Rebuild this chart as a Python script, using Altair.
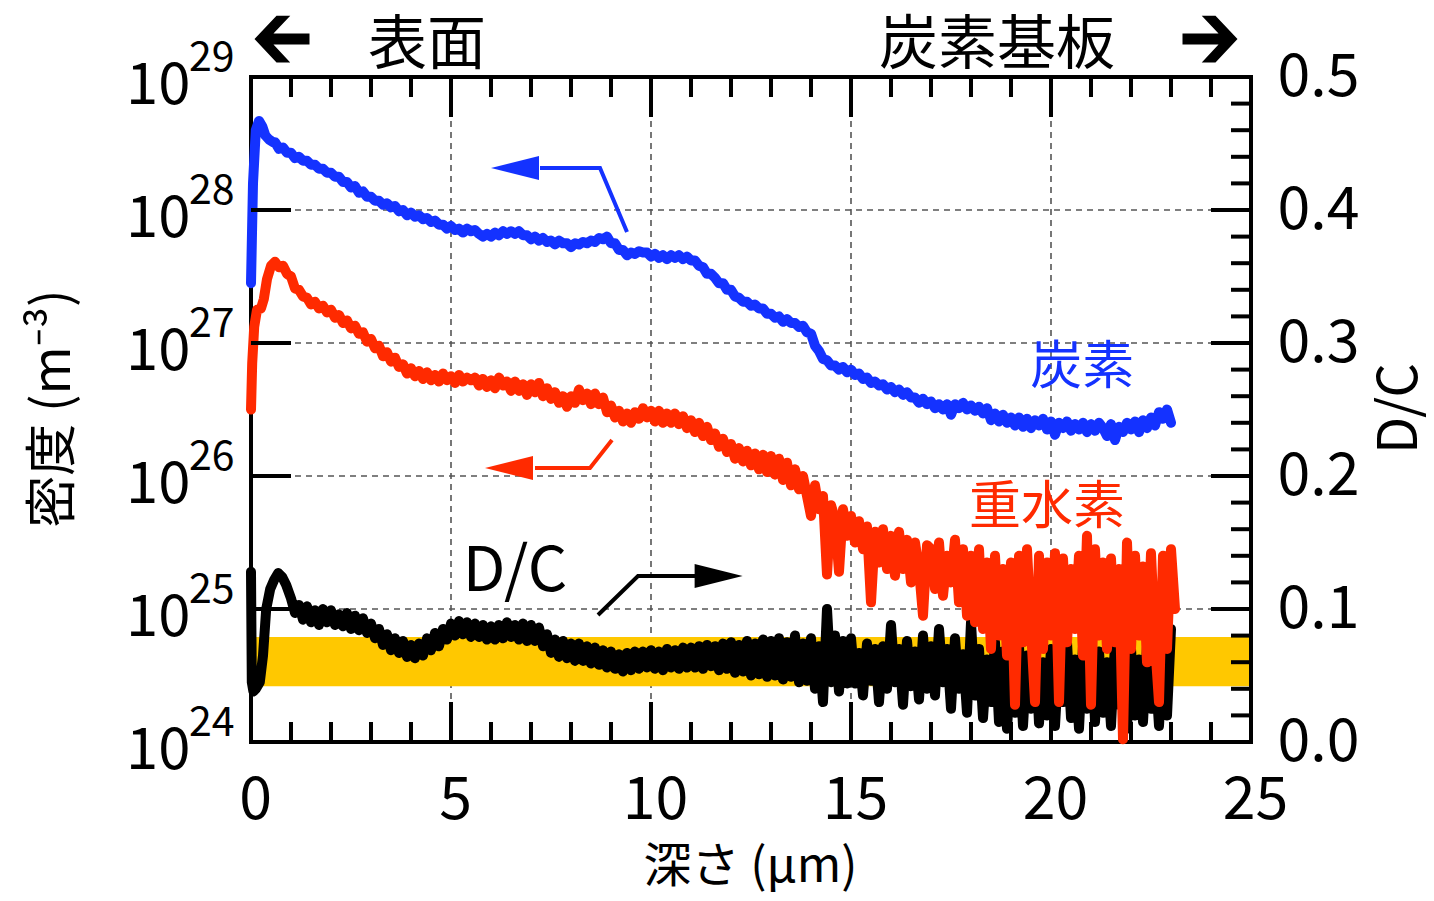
import altair as alt
import pandas as pd

W, H = 1000, 665
FONT = "Noto Sans CJK JP"
BLUE = "#1432ff"
RED = "#ff2a00"
YELLOW = "#ffc800"
STEP = 0.1   # depth sampling step of the profile data (um)

# ---- carbon (blue): log10 density (m^-3) ----
carbon_head = [(0.00, 27.45), (0.05, 28.20), (0.12, 28.60), (0.20, 28.67), (0.28, 28.63),
               (0.36, 28.56), (0.45, 28.53), (0.55, 28.51)]
carbon_start = 0.6
carbon_log = [
    28.51, 28.46, 28.47, 28.43, 28.43, 28.39, 28.40, 28.37, 28.37, 28.34,
    28.34, 28.31, 28.31, 28.28, 28.28, 28.25, 28.25, 28.21, 28.21, 28.17,
    28.18, 28.13, 28.14, 28.10, 28.10, 28.07, 28.07, 28.04, 28.05, 28.02,
    28.03, 27.99, 28.00, 27.96, 27.98, 27.95, 27.96, 27.93, 27.94, 27.91,
    27.92, 27.89, 27.89, 27.86, 27.88, 27.85, 27.86, 27.83, 27.86, 27.84,
    27.85, 27.82, 27.80, 27.82, 27.80, 27.83, 27.81, 27.84, 27.82, 27.84,
    27.82, 27.84, 27.81, 27.81, 27.78, 27.80, 27.77, 27.79, 27.76, 27.77,
    27.74, 27.77, 27.75, 27.75, 27.72, 27.75, 27.74, 27.76, 27.75, 27.77,
    27.76, 27.79, 27.78, 27.80, 27.75, 27.75, 27.70, 27.70, 27.66, 27.68,
    27.67, 27.69, 27.68, 27.68, 27.65, 27.67, 27.64, 27.66, 27.63, 27.66,
    27.64, 27.66, 27.63, 27.65, 27.62, 27.62, 27.58, 27.57, 27.52, 27.52,
    27.49, 27.45, 27.45, 27.40, 27.40, 27.35, 27.34, 27.31, 27.31, 27.28,
    27.29, 27.26, 27.26, 27.22, 27.22, 27.19, 27.20, 27.16, 27.18, 27.15,
    27.15, 27.12, 27.13, 27.08, 27.07, 26.98, 26.94, 26.88, 26.87, 26.83,
    26.83, 26.80, 26.82, 26.78, 26.80, 26.76, 26.77, 26.73, 26.74, 26.70,
    26.71, 26.68, 26.69, 26.65, 26.67, 26.63, 26.65, 26.61, 26.63, 26.59,
    26.59, 26.55, 26.58, 26.54, 26.56, 26.51, 26.54, 26.50, 26.54, 26.46,
    26.54, 26.51, 26.55, 26.50, 26.53, 26.49, 26.52, 26.47, 26.51, 26.42,
    26.47, 26.41, 26.46, 26.40, 26.44, 26.38, 26.44, 26.37, 26.43, 26.36,
    26.42, 26.38, 26.43, 26.35, 26.41, 26.31, 26.40, 26.36, 26.41, 26.34,
    26.39, 26.35, 26.40, 26.33, 26.39, 26.34, 26.40, 26.36, 26.30, 26.39,
    26.27, 26.37, 26.33, 26.40, 26.35, 26.41, 26.33, 26.42, 26.36, 26.44,
    26.38, 26.48, 26.43, 26.50, 26.40,
]

# ---- deuterium (red): log10 density (m^-3) ----
deut_head = [(0.00, 26.50), (0.03, 26.85), (0.08, 27.12), (0.15, 27.25), (0.25, 27.26),
             (0.32, 27.33), (0.40, 27.48), (0.50, 27.58)]
deut_start = 0.6
deut_log = [
    27.61, 27.57, 27.58, 27.52, 27.50, 27.41, 27.40, 27.35, 27.34, 27.29,
    27.31, 27.26, 27.28, 27.23, 27.25, 27.19, 27.21, 27.15, 27.17, 27.11,
    27.13, 27.07, 27.08, 27.01, 27.03, 26.96, 26.98, 26.90, 26.93, 26.86,
    26.89, 26.82, 26.84, 26.77, 26.81, 26.75, 26.79, 26.73, 26.78, 26.72,
    26.76, 26.71, 26.77, 26.72, 26.75, 26.70, 26.76, 26.71, 26.74, 26.72,
    26.74, 26.68, 26.73, 26.67, 26.72, 26.66, 26.74, 26.68, 26.71, 26.64,
    26.71, 26.64, 26.69, 26.61, 26.69, 26.63, 26.70, 26.60, 26.66, 26.58,
    26.63, 26.55, 26.60, 26.52, 26.60, 26.55, 26.65, 26.57, 26.62, 26.54,
    26.62, 26.54, 26.59, 26.48, 26.53, 26.44, 26.49, 26.41, 26.47, 26.40,
    26.48, 26.43, 26.51, 26.44, 26.49, 26.41, 26.49, 26.40, 26.47, 26.40,
    26.47, 26.39, 26.45, 26.36, 26.42, 26.33, 26.40, 26.30, 26.37, 26.27,
    26.32, 26.22, 26.28, 26.18, 26.24, 26.13, 26.21, 26.11, 26.19, 26.08,
    26.17, 26.05, 26.16, 26.03, 26.15, 26.01, 26.13, 25.97, 26.10, 25.93,
    26.05, 25.90, 26.00, 25.85, 25.70, 25.93, 25.75, 25.85, 25.26, 25.78,
    25.68, 25.28, 25.75, 25.55, 25.70, 25.50, 25.66, 25.45, 25.62, 25.05,
    25.58, 25.35, 25.60, 25.30, 25.55, 25.25, 25.58, 25.30, 25.52, 25.20,
    25.50, 25.30, 24.95, 25.48, 25.45, 25.15, 25.50, 25.10, 25.40, 25.20,
    25.52, 25.05, 25.45, 24.95, 25.40, 24.90, 25.45, 24.85, 25.35, 24.70,
    25.40, 24.80, 25.30, 24.65, 25.35, 24.28, 25.40, 24.75, 25.45, 24.85,
    24.30, 25.40, 24.70, 25.35, 24.80, 25.42, 24.30, 25.38, 24.75, 25.30,
    24.85, 25.40, 24.65, 25.55, 24.28, 25.45, 24.80, 25.35, 24.70, 25.38,
    24.75, 25.30, 24.02, 25.50, 24.70, 25.40, 24.80, 25.32, 24.60, 25.42,
    24.75, 24.30, 25.40, 24.70, 25.45, 25.00,
]

# ---- D/C ratio (black, right axis) ----
dc_head = [(0.00, 0.128), (0.02, 0.045), (0.06, 0.038), (0.12, 0.040), (0.22, 0.045),
           (0.30, 0.065), (0.38, 0.100), (0.48, 0.115), (0.58, 0.122), (0.68, 0.127),
           (0.78, 0.124), (0.88, 0.118)]
dc_start = 1.0
dc_val = [
    0.108, 0.097, 0.103, 0.092, 0.102, 0.090, 0.099, 0.088, 0.100, 0.090,
    0.099, 0.088, 0.096, 0.087, 0.097, 0.085, 0.095, 0.084, 0.093, 0.082,
    0.089, 0.078, 0.085, 0.073, 0.081, 0.069, 0.078, 0.067, 0.076, 0.064,
    0.073, 0.063, 0.074, 0.065, 0.078, 0.069, 0.082, 0.072, 0.085, 0.077,
    0.089, 0.080, 0.091, 0.081, 0.090, 0.079, 0.089, 0.079, 0.088, 0.077,
    0.087, 0.077, 0.088, 0.078, 0.090, 0.079, 0.088, 0.077, 0.089, 0.076,
    0.088, 0.076, 0.086, 0.072, 0.081, 0.067, 0.077, 0.064, 0.076, 0.063,
    0.074, 0.061, 0.074, 0.061, 0.072, 0.059, 0.071, 0.058, 0.069, 0.056,
    0.068, 0.055, 0.066, 0.053, 0.067, 0.054, 0.068, 0.055, 0.068, 0.056,
    0.069, 0.055, 0.068, 0.054, 0.070, 0.056, 0.069, 0.055, 0.071, 0.056,
    0.071, 0.056, 0.072, 0.055, 0.073, 0.057, 0.072, 0.054, 0.074, 0.055,
    0.075, 0.052, 0.073, 0.053, 0.076, 0.050, 0.074, 0.051, 0.077, 0.049,
    0.076, 0.050, 0.078, 0.047, 0.075, 0.049, 0.080, 0.045, 0.074, 0.046,
    0.078, 0.040, 0.072, 0.030, 0.100, 0.045, 0.080, 0.038, 0.076, 0.044,
    0.078, 0.044, 0.067, 0.035, 0.074, 0.046, 0.070, 0.030, 0.072, 0.040,
    0.088, 0.045, 0.070, 0.028, 0.076, 0.042, 0.068, 0.032, 0.080, 0.040,
    0.072, 0.035, 0.085, 0.045, 0.070, 0.025, 0.078, 0.040, 0.066, 0.022,
    0.090, 0.035, 0.070, 0.018, 0.062, 0.030, 0.075, 0.015, 0.068, 0.010,
    0.060, 0.022, 0.072, 0.012, 0.065, 0.025, 0.080, 0.014, 0.060, 0.020,
    0.070, 0.012, 0.066, 0.030, 0.075, 0.018, 0.062, 0.010, 0.072, 0.025,
    0.090, 0.015, 0.068, 0.022, 0.060, 0.012, 0.074, 0.028, 0.064, 0.010,
    0.070, 0.020, 0.062, 0.015, 0.072, 0.025, 0.060, 0.012, 0.068, 0.020,
    0.085,
]

band_range = (0.042, 0.079)          # yellow band on D/C axis
decades = [24, 25, 26, 27, 28, 29]
x_major = [5, 10, 15, 20]
x_minor = [1, 2, 3, 4, 6, 7, 8, 9, 11, 12, 13, 14, 16, 17, 18, 19, 21, 22, 23, 24]
r_major = [0.1, 0.2, 0.3, 0.4]
r_minor = [0.02, 0.04, 0.06, 0.08, 0.12, 0.14, 0.16, 0.18, 0.22, 0.24, 0.26, 0.28,
           0.32, 0.34, 0.36, 0.38, 0.42, 0.44, 0.46, 0.48]

# annotation arrows (data coordinates)
c_arrow_x, c_arrow_log = [9.4, 8.725, 7.225], [27.835, 28.316, 28.316]
c_head = (6.6, 28.316)
d_arrow_x, d_arrow_log = [9.025, 8.475, 7.1], [26.27, 26.06, 26.06]
d_head = (6.45, 26.06)
r_arrow_x, r_arrow_v = [8.675, 9.675, 11.1], [0.0955, 0.1248, 0.1248]
r_head = (11.69, 0.1248)

# ---------------------------------------------------------------
def build(head, start, vals, is_log):
    xs_ = [p[0] for p in head] + [round(start + STEP * i, 2) for i in range(len(vals))]
    ys_ = [p[1] for p in head] + list(vals)
    if is_log:
        ys_ = [10 ** v for v in ys_]
    return pd.DataFrame({"x": xs_, "y": ys_})

carbon_df = build(carbon_head, carbon_start, carbon_log, True)
deut_df = build(deut_head, deut_start, deut_log, True)
dc_df = build(dc_head, dc_start, dc_val, False)

xs = alt.Scale(domain=[0, 25], nice=False, zero=False)
ylog = alt.Scale(type="log", domain=[1e24, 1e29], nice=False)
ylin = alt.Scale(domain=[0, 0.5], nice=False, zero=False)

xaxis = alt.Axis(values=[0, 5, 10, 15, 20, 25], ticks=False, tickSize=0, domain=False, grid=False,
                 labelFont=FONT, labelFontSize=59, labelColor="black", labelPadding=76,
                 labelBaseline="alphabetic", labelFlush=False, labelOverlap=False, labelOffset=4,
                 title="深さ (μm)", titleFont=FONT, titleFontSize=48, titleFontWeight="normal",
                 titleColor="black", titleX=499, titleY=125, titleAlign="center",
                 titleBaseline="middle", titleAngle=0)

def X(field="x"):
    return alt.X(f"{field}:Q", scale=xs, axis=xaxis)

left_axis = alt.Axis(orient="left", values=[10.0 ** d for d in decades], labelExpr="'10'",
                     ticks=False, tickSize=0, domain=False, grid=False,
                     labelFont=FONT, labelFontSize=58, labelColor="black", labelPadding=61,
                     labelAlign="right", labelBaseline="middle", labelOffset=9,
                     labelFlush=False, labelOverlap=False,
                     title="密度 (m⁻³)", titleFont=FONT, titleFontSize=52, titleFontWeight="normal",
                     titleColor="black", titleX=-198, titleY=331, titleAngle=270,
                     titleAlign="center", titleBaseline="middle")

right_axis = alt.Axis(orient="right", values=[0, 0.1, 0.2, 0.3, 0.4, 0.5], format=".1f",
                      ticks=False, tickSize=0, domain=False, grid=False,
                      labelFont=FONT, labelFontSize=59, labelColor="black", labelPadding=26,
                      labelAlign="left", labelBaseline="middle", labelFlush=False, labelOverlap=False,
                      title="D/C", titleFont=FONT, titleFontSize=54, titleFontWeight="normal",
                      titleColor="black", titleX=149, titleY=331, titleAngle=270,
                      titleAlign="center", titleBaseline="middle")

layers = []

# grid
layers.append(alt.Chart(pd.DataFrame({"x": x_major})).mark_rule(
    color="#555555", strokeWidth=1.6, strokeDash=[6, 5]).encode(
    x=X(), y=alt.value(0), y2=alt.value(H)))
layers.append(alt.Chart(pd.DataFrame({"y": [10.0 ** d for d in decades[1:-1]]})).mark_rule(
    color="#555555", strokeWidth=1.6, strokeDash=[6, 5]).encode(
    y=alt.Y("y:Q", scale=ylog, axis=None), x=alt.value(0), x2=alt.value(W)))

# yellow band
layers.append(alt.Chart(pd.DataFrame({"x": [0], "x2": [25], "lo": [band_range[0]], "hi": [band_range[1]]}))
              .mark_rect(color=YELLOW).encode(
    x=X(), x2="x2:Q", y=alt.Y("lo:Q", scale=ylin, axis=None), y2="hi:Q"))

# plot frame
layers.append(alt.Chart(pd.DataFrame({"a": [0]})).mark_rect(
    fillOpacity=0, stroke="black", strokeWidth=4).encode(
    x=alt.value(0), x2=alt.value(W), y=alt.value(0), y2=alt.value(H)))

# data lines
line_style = dict(strokeWidth=10, strokeCap="round", strokeJoin="round")
layers.append(alt.Chart(dc_df).mark_line(color="black", **line_style).encode(
    x=X(), y=alt.Y("y:Q", scale=ylin, axis=right_axis)))
layers.append(alt.Chart(deut_df).mark_line(color=RED, **line_style).encode(
    x=X(), y=alt.Y("y:Q", scale=ylog, axis=None)))
layers.append(alt.Chart(carbon_df).mark_line(color=BLUE, **line_style).encode(
    x=X(), y=alt.Y("y:Q", scale=ylog, axis=left_axis)))

# annotation arrows
LEFT_HEAD = "M-1,0L1,-0.5L1,0.5Z"
RIGHT_HEAD = "M1,0L-1,-0.5L-1,0.5Z"
def arrow(xv, yv, head, color, scale, shape, is_log):
    conv = (lambda v: 10 ** v) if is_log else (lambda v: v)
    seg = alt.Chart(pd.DataFrame({"x": xv, "y": [conv(v) for v in yv], "o": list(range(len(xv)))})).mark_line(
        color=color, strokeWidth=4).encode(x=X(), y=alt.Y("y:Q", scale=scale, axis=None), order="o:Q")
    hd = alt.Chart(pd.DataFrame({"x": [head[0]], "y": [conv(head[1])]})).mark_point(
        shape=shape, size=2304, filled=True, color=color, opacity=1, strokeWidth=0).encode(
        x=X(), y=alt.Y("y:Q", scale=scale, axis=None))
    return [seg, hd]

layers += arrow(c_arrow_x, c_arrow_log, c_head, BLUE, ylog, LEFT_HEAD, True)
layers += arrow(d_arrow_x, d_arrow_log, d_head, RED, ylog, LEFT_HEAD, True)
layers += arrow(r_arrow_x, r_arrow_v, r_head, "black", ylin, RIGHT_HEAD, False)

# in-plot labels
labels_log = pd.DataFrame({"x": [20.78, 19.9], "y": [10 ** 26.81, 10 ** 25.76],
                           "t": ["炭素", "重水素"], "c": [BLUE, RED]})
layers.append(alt.Chart(labels_log).mark_text(font=FONT, fontSize=52, align="center", baseline="middle").encode(
    x=X(), y=alt.Y("y:Q", scale=ylog, axis=None), text="t:N", color=alt.Color("c:N", scale=None)))
layers.append(alt.Chart(pd.DataFrame({"x": [6.6], "y": [0.128], "t": ["D/C"]})).mark_text(
    font=FONT, fontSize=62, align="center", baseline="middle", color="black").encode(
    x=X(), y=alt.Y("y:Q", scale=ylin, axis=None), text="t:N"))

# header
header = pd.DataFrame({"x": [4.4, 18.65], "y": [10 ** 29.235, 10 ** 29.235], "t": ["表面", "炭素基板"]})
layers.append(alt.Chart(header).mark_text(font=FONT, fontSize=59, align="center", baseline="middle",
                                          color="black").encode(
    x=X(), y=alt.Y("y:Q", scale=ylog, axis=None), text="t:N"))
BIG_LEFT = "M-1,0L-0.2,-0.85L0.3,-0.85L-0.31,-0.2L1,-0.2L1,0.2L-0.31,0.2L0.3,0.85L-0.2,0.85Z"
BIG_RIGHT = "M1,0L0.2,-0.85L-0.3,-0.85L0.31,-0.2L-1,-0.2L-1,0.2L0.31,0.2L-0.3,0.85L0.2,0.85Z"
layers.append(alt.Chart(pd.DataFrame({"x": [0.775], "y": [10 ** 29.285]})).mark_point(
    shape=BIG_LEFT, size=3025, filled=True, color="black", opacity=1, strokeWidth=0).encode(
    x=X(), y=alt.Y("y:Q", scale=ylog, axis=None)))
layers.append(alt.Chart(pd.DataFrame({"x": [23.975], "y": [10 ** 29.285]})).mark_point(
    shape=BIG_RIGHT, size=3025, filled=True, color="black", opacity=1, strokeWidth=0).encode(
    x=X(), y=alt.Y("y:Q", scale=ylog, axis=None)))

# superscript exponents for the left axis
layers.append(alt.Chart(pd.DataFrame({"y": [10.0 ** d for d in decades], "t": [str(d) for d in decades]}))
              .mark_text(font=FONT, fontSize=41, align="left", baseline="middle", dy=-18, color="black").encode(
    y=alt.Y("y:Q", scale=ylog, axis=None), x=alt.value(-62), text="t:N"))

# inward ticks
tick = dict(color="black", strokeWidth=4)
layers.append(alt.Chart(pd.DataFrame({"x": x_major})).mark_rule(**tick).encode(
    x=X(), y=alt.value(H), y2=alt.value(H - 40)))
layers.append(alt.Chart(pd.DataFrame({"x": x_minor})).mark_rule(**tick).encode(
    x=X(), y=alt.value(H), y2=alt.value(H - 20)))
layers.append(alt.Chart(pd.DataFrame({"x": x_major})).mark_rule(**tick).encode(
    x=X(), y=alt.value(0), y2=alt.value(40)))
layers.append(alt.Chart(pd.DataFrame({"x": x_minor})).mark_rule(**tick).encode(
    x=X(), y=alt.value(0), y2=alt.value(20)))
layers.append(alt.Chart(pd.DataFrame({"y": [10.0 ** d for d in decades[1:-1]]})).mark_rule(**tick).encode(
    y=alt.Y("y:Q", scale=ylog, axis=None), x=alt.value(0), x2=alt.value(40)))
layers.append(alt.Chart(pd.DataFrame({"y": r_major})).mark_rule(**tick).encode(
    y=alt.Y("y:Q", scale=ylin, axis=None), x=alt.value(W), x2=alt.value(W - 40)))
layers.append(alt.Chart(pd.DataFrame({"y": r_minor})).mark_rule(**tick).encode(
    y=alt.Y("y:Q", scale=ylin, axis=None), x=alt.value(W), x2=alt.value(W - 20)))

chart = alt.layer(*layers).resolve_scale(y="independent").resolve_axis(y="independent").properties(
    width=W, height=H,
    autosize=alt.AutoSizeParams(type="none"),
    padding={"left": 243, "top": 69, "right": 175, "bottom": 151},
    background="white",
).configure_view(stroke="transparent").configure(font=FONT)

chart.save("out.html", embed_options={"renderer": "svg", "actions": False})
